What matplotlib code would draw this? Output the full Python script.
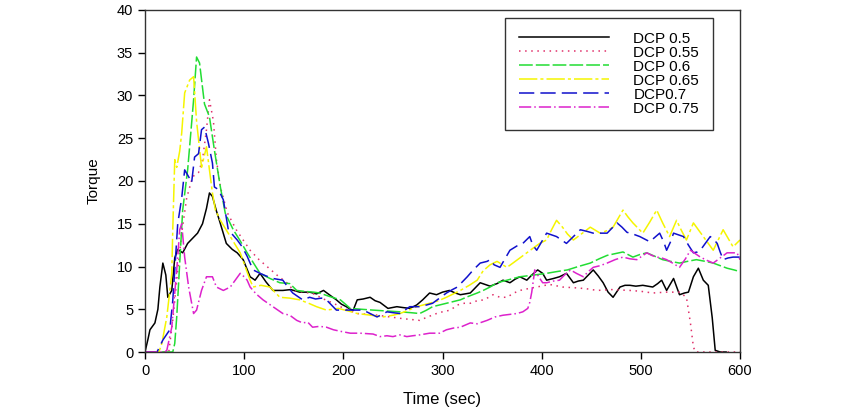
import numpy as np
import matplotlib.pyplot as plt

plt.rcParams.update({'font.family': ['Liberation Sans', 'DejaVu Sans'], 'font.size': 10.5})

labels = ['DCP 0.5', 'DCP 0.55', 'DCP 0.6', 'DCP 0.65', 'DCP0.7', 'DCP 0.75']

# DCP 0.5
t_05 = [0, 3, 5, 10, 13, 15, 18, 21, 23, 27, 30, 33, 38, 43, 48, 53, 58, 62, 65, 68, 72, 75, 82, 88, 93, 99,
        106, 111, 116, 122, 129, 139, 147, 156, 166, 173, 180, 187, 193, 198, 203, 207, 210, 214, 220, 227, 232,
        237, 245, 254, 260, 267, 274, 280, 287, 294, 300, 307, 313, 318, 323, 328, 333, 338, 343, 348, 355, 361,
        368, 373, 378, 385, 390, 396, 401, 405, 412, 418, 425, 432, 437, 442, 447, 452, 457, 462, 467, 472, 479,
        484, 489, 495, 502, 507, 512, 517, 521, 526, 530, 533, 539, 544, 548, 553, 558, 563, 568, 572, 575, 580,
        586]
v_05 = [0, 1.5, 2.6, 3.4, 5, 7.6, 10.4, 9, 6.4, 7.2, 11, 12, 11.6, 12.7, 13.3, 13.9, 15, 16.8, 18.6, 18.2, 16.5,
        15.4, 12.7, 12, 11.6, 10.8, 8.8, 8.4, 9.2, 8.2, 7.2, 7.2, 7.3, 7.0, 7.0, 6.8, 7.2, 6.6, 6.1, 5.6, 5.3, 5.0,
        4.9, 6.1, 6.2, 6.4, 6.0, 5.8, 5.1, 5.3, 5.2, 5.1, 5.5, 6.1, 6.9, 6.7, 7.0, 7.2, 6.9, 6.7, 6.8, 6.9, 7.5,
        8.1, 7.9, 7.7, 8.0, 8.4, 8.1, 8.5, 8.8, 8.4, 9.0, 9.6, 9.2, 8.4, 8.6, 8.8, 9.2, 8.1, 8.3, 8.4, 9.0, 9.6,
        8.9, 8.1, 7.0, 6.4, 7.6, 7.8, 7.8, 7.7, 7.8, 7.7, 7.6, 8.0, 8.4, 7.2, 8.0, 8.6, 6.7, 6.9, 7.0, 8.8, 9.8,
        8.4, 7.8, 4, 0.2, 0, 0]

# DCP 0.55
t_055 = [0, 24, 28, 32, 37, 42, 48, 54, 58, 62, 65, 69, 72, 76, 83, 92, 106, 115, 123, 133, 143, 150, 160, 170,
         180, 190, 197, 205, 214, 225, 235, 247, 260, 277, 285, 294, 300, 308, 315, 322, 328, 335, 342, 351, 358,
         365, 372, 378, 386, 395, 408, 421, 435, 445, 456, 470, 489, 500, 512, 525, 539, 546, 550, 553, 555, 600]
v_055 = [0, 0, 3.7, 8.4, 13.9, 18, 20.5, 21, 22.5, 26, 29.5, 27, 22.5, 19.3, 16.3, 14.3, 11.9, 10.8, 10, 9, 8.1,
         7.2, 7.0, 6.8, 6.2, 5.7, 5.3, 4.9, 4.5, 4.4, 4.3, 4.1, 3.9, 3.7, 4.1, 4.5, 4.7, 4.9, 5.5, 5.7, 5.7, 6.0,
         6.1, 6.7, 6.4, 6.4, 6.9, 7.2, 7.4, 7.6, 7.9, 7.6, 7.5, 7.4, 7.2, 7.3, 7.2, 7.1, 6.9, 7.0, 7.0, 6.4, 3.4,
         0.6, 0, 0]

# DCP 0.6
t_06 = [0, 28, 30, 32, 35, 38, 43, 45, 49, 52, 55, 60, 65, 70, 76, 81, 89, 96, 103, 110, 116, 126, 136, 146, 153,
        160, 170, 176, 186, 197, 207, 218, 230, 243, 257, 268, 277, 284, 290, 297, 304, 311, 318, 326, 335, 341,
        348, 355, 365, 378, 392, 405, 415, 426, 437, 449, 458, 466, 474, 482, 492, 499, 506, 514, 522, 530, 539,
        547, 556, 565, 573, 580, 587, 594, 600]
v_06 = [0, 0, 1, 4.1, 10.4, 16.6, 21.3, 24, 29.5, 34.5, 33.8, 29, 27.5, 23.6, 19.3, 16.2, 14.3, 13, 11.6, 10.3,
        9.2, 8.6, 8.1, 8.0, 7.2, 7.1, 7.0, 6.9, 6.5, 6.1, 5.1, 5.0, 4.9, 4.8, 4.7, 4.6, 4.5, 4.9, 5.3, 5.5, 5.7,
        5.9, 6.1, 6.5, 6.9, 7.2, 7.6, 8.1, 8.4, 8.8, 9.0, 9.2, 9.4, 9.6, 10.0, 10.4, 10.9, 11.3, 11.5, 11.7, 11.1,
        11.4, 11.6, 11.2, 10.8, 10.6, 10.4, 10.6, 10.8, 10.6, 10.4, 10.1, 9.8, 9.6, 9.4]

# DCP 0.65
t_065 = [0, 14, 17, 22, 27, 28, 30, 32, 35, 37, 40, 45, 49, 52, 57, 62, 68, 71, 76, 86, 96, 101, 106, 109, 117,
         126, 136, 146, 156, 165, 173, 183, 195, 205, 214, 228, 240, 250, 257, 266, 274, 287, 296, 304, 311, 318,
         327, 335, 341, 348, 355, 365, 371, 378, 385, 392, 398, 405, 410, 415, 421, 426, 432, 440, 449, 459, 466,
         472, 477, 482, 487, 492, 497, 502, 509, 516, 522, 529, 536, 541, 546, 553, 558, 563, 568, 573, 578, 583,
         588, 593, 600]
v_065 = [0, 0, 1, 4.1, 9.2, 14.3, 22.5, 21.6, 23.5, 25.6, 30.3, 31.8, 32.2, 27, 21.6, 24, 18.6, 16.6, 15.4, 13.5,
         11.6, 10, 8.4, 7.6, 7.8, 7.6, 6.4, 6.3, 6.1, 5.7, 5.3, 4.9, 5.1, 4.8, 4.5, 4.3, 4.1, 4.3, 4.5, 4.9, 5.3,
         5.7, 6.0, 6.4, 6.8, 7.2, 7.8, 8.4, 9.5, 10.2, 10.6, 9.9, 10.4, 11.0, 11.6, 12.2, 12.7, 13.1, 14.3, 15.4,
         14.6, 13.8, 13.1, 13.8, 14.6, 13.9, 14.2, 14.6, 15.6, 16.6, 15.8, 15.1, 14.5, 13.9, 15.2, 16.6, 15.1, 13.5,
         15.4, 14.2, 13.1, 15.1, 14.3, 13.5, 12.7, 11.9, 13.1, 14.3, 13.3, 12.3, 13.1]

# DCP0.7
t_07 = [0, 12, 13, 18, 25, 28, 30, 33, 37, 40, 44, 47, 50, 54, 57, 60, 64, 68, 70, 74, 79, 84, 93, 98, 103, 109,
        116, 122, 129, 139, 144, 149, 154, 159, 166, 172, 178, 183, 188, 193, 200, 207, 214, 220, 227, 234, 239,
        244, 250, 257, 262, 267, 272, 277, 284, 290, 297, 304, 310, 315, 320, 325, 331, 338, 345, 348, 352, 358,
        363, 368, 375, 381, 388, 391, 395, 400, 405, 410, 415, 420, 425, 432, 439, 446, 452, 459, 466, 471, 476,
        481, 486, 492, 499, 504, 509, 514, 519, 523, 526, 530, 533, 538, 543, 548, 553, 557, 560, 565, 570, 574,
        577, 580, 583, 588, 593, 600]
v_07 = [0, 0, 0.2, 1.4, 2.6, 6, 9.6, 15, 18, 21.3, 20.5, 19.8, 22.8, 23.2, 26, 26.3, 24.4, 22.1, 19.3, 19, 17.8,
        14.3, 13.1, 12.3, 11.2, 9.6, 9.2, 8.9, 8.6, 8.4, 7.6, 6.9, 6.5, 6.1, 6.4, 6.2, 6.3, 6.1, 5.5, 4.9, 4.9,
        4.9, 4.9, 4.9, 4.5, 4.1, 4.4, 4.7, 4.6, 4.5, 4.9, 5.3, 5.3, 5.3, 5.5, 5.7, 6.3, 6.9, 7.3, 7.6, 8.2, 8.8,
        9.6, 10.4, 10.6, 10.8, 10.2, 9.9, 10.9, 11.9, 12.4, 12.7, 13.5, 12.5, 11.9, 12.9, 13.9, 13.7, 13.5, 13.1,
        12.7, 13.5, 14.3, 14.1, 13.9, 13.9, 13.9, 14.5, 15.1, 14.6, 14.0, 13.8, 13.5, 13.2, 12.9, 13.4, 13.9, 12.9,
        11.9, 12.9, 13.9, 13.7, 13.5, 12.5, 11.6, 11.7, 11.9, 12.7, 13.5, 13.1, 12.7, 11.7, 10.8, 11.0, 11.1, 11.1]

# DCP 0.75
t_075 = [0, 20, 22, 27, 32, 35, 37, 40, 44, 49, 52, 57, 62, 68, 72, 79, 86, 91, 96, 100, 103, 106, 112, 119, 129,
         139, 146, 153, 159, 164, 169, 176, 183, 190, 198, 207, 217, 230, 237, 244, 250, 257, 264, 270, 277, 287,
         297, 304, 311, 318, 328, 335, 345, 353, 361, 368, 375, 381, 386, 388, 390, 393, 397, 401, 405, 412, 418,
         423, 429, 435, 442, 447, 452, 459, 466, 474, 482, 489, 496, 501, 506, 511, 516, 521, 526, 532, 539, 545,
         550, 555, 560, 567, 573, 580, 587, 593, 597, 600]
v_075 = [0, 0, 0.2, 2.9, 9.6, 14.3, 15, 11.1, 7.6, 4.5, 4.9, 7.2, 8.8, 8.8, 7.6, 7.2, 7.6, 8.4, 9.2, 8.8, 8.4, 7.6,
         6.8, 6.1, 5.3, 4.5, 4.3, 3.7, 3.4, 3.5, 2.9, 3.0, 2.9, 2.6, 2.4, 2.2, 2.2, 2.1, 1.8, 1.9, 1.8, 2.0, 1.8,
         1.9, 2.0, 2.2, 2.2, 2.6, 2.8, 2.9, 3.4, 3.3, 3.7, 4.1, 4.3, 4.4, 4.5, 4.7, 5.1, 5.8, 7.0, 9.6, 8.8, 8.1,
         8.1, 8.3, 8.4, 9.0, 9.6, 9.2, 8.8, 9.4, 9.9, 10.1, 10.4, 10.8, 11.1, 10.9, 10.8, 11.2, 11.6, 11.3, 11.1,
         11.0, 10.8, 10.4, 9.9, 10.9, 11.9, 11.5, 11.1, 10.7, 10.4, 11.0, 11.6, 11.6, 11.6, 10.8]

series = [(t_05, v_05), (t_055, v_055), (t_06, v_06), (t_065, v_065), (t_07, v_07), (t_075, v_075)]
colors = ['black', '#e0306a', '#22dd33', '#f5f500', '#1010cc', '#dd22cc']
styles = ['-', (0, (1, 3)), (0, (9, 2)), (0, (12, 2, 2, 2)), (0, (10, 4)), (0, (8, 2, 1, 2))]

fig = plt.figure(figsize=(8.56, 4.18), dpi=100)
ax = fig.add_axes([145 / 856, 1 - 352 / 418, 595 / 856, 342 / 418])

for (t, v), c, ls, lab in zip(series, colors, styles, labels):
    ax.plot(t, v, color=c, linestyle=ls, linewidth=1.1, label=lab)

ax.set_xlim(0, 600)
ax.set_ylim(0, 40)
ax.set_xticks(np.arange(0, 601, 100))
ax.set_yticks(np.arange(0, 41, 5))
ax.tick_params(direction='out', length=5, width=1, labelsize=10.5, top=False, right=False)
for s in ax.spines.values():
    s.set_linewidth(1)
    s.set_color('#333333')

ax.set_xlabel('Time (sec)', fontsize=12, labelpad=10)
ax.set_ylabel('Torque', fontsize=11, labelpad=12)

leg = ax.legend(loc='upper right', bbox_to_anchor=(0.9546, 0.9766), frameon=True, fancybox=False,
                edgecolor='black', handlelength=5.9, handletextpad=1.6, labelspacing=0.0,
                borderpad=0.9, borderaxespad=0, fontsize=11)
leg.get_frame().set_linewidth(1)

plt.savefig('out.png', dpi=100)
plt.close()
